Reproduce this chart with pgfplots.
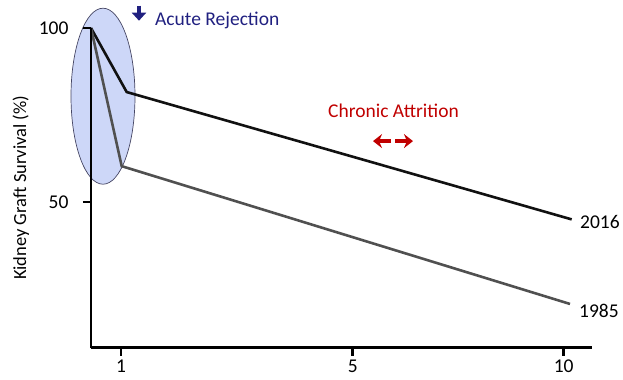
\documentclass[border=0pt]{standalone}
\usepackage{fontspec}
\setmainfont{Carlito}
\usepackage{pgfplots}
\pgfplotsset{compat=1.18}
\usetikzlibrary{arrows.meta}

\definecolor{navy}{RGB}{32,32,128}
\definecolor{darkred}{RGB}{192,0,0}
\definecolor{lineblack}{RGB}{17,17,17}
\definecolor{linegray}{RGB}{80,80,80}
\definecolor{ellfill}{RGB}{205,215,248}
\definecolor{elldraw}{RGB}{70,70,100}

\begin{document}
\begin{tikzpicture}[font=\fontsize{19.5bp}{23bp}\selectfont]
% page = 623 x 380 bp, axis box origin at (91,347.7) px from top left
\useasboundingbox (-91bp,-32.3bp) rectangle (532bp,347.7bp);
\begin{axis}[
    scale only axis,
    width=501bp, height=319.7bp,
    xmin=0, xmax=501,
    ymin=8.13, ymax=100,
    axis x line=bottom, axis y line=left,
    axis line style={-, line width=2.5bp, black},
    axis on top,
    clip=false,
    xtick={30,261.7,472.7},
    xticklabels={1,5,10},
    ytick={50,100},
    tick align=outside,
    major tick length=8bp,
    tick style={line width=2.5bp, black},
    /pgf/number format/assume math mode=true,
    ticklabel style={font=\fontsize{19.5bp}{23bp}\selectfont},
    yticklabel style={xshift=-11bp},
    xticklabel style={yshift=-3bp, inner ysep=1bp},
    ylabel={Kidney Graft Survival (\%)},
    ylabel style={at={(axis description cs:-0.14,0.5)}, anchor=center,
        font=\fontsize{18.5bp}{22bp}\selectfont},
]
% acute rejection window
\draw[fill=ellfill, draw=elldraw, line width=0.7bp] (axis cs:12,80.4) ellipse [x radius=32bp, y radius=88bp];

% 2016
\addplot[lineblack, line width=2.6bp] coordinates {
    (0,100) (35.7,81.6) (480.7,45.0)
};
% 1985
\addplot[linegray, line width=2.6bp] coordinates {
    (0,100) (30.7,60.3) (479,20.7)
};

\node[anchor=base west, inner sep=0pt] at (axis cs:489,42.5) {2016};
\node[anchor=base west, inner sep=0pt] at (axis cs:488,16.95) {1985};

\draw[navy, line width=4.5bp, -{Triangle[width=14bp,length=8bp]}] (axis cs:48,106.4) -- (axis cs:48,102.1);
\node[navy, anchor=base west, inner sep=0pt] at (axis cs:64,100.6) {Acute Rejection};

\node[darkred, anchor=base west, inner sep=0pt] at (axis cs:237,74.4) {Chronic Attrition};
\draw[darkred, line width=3.5bp, -{Stealth[width=14bp,length=9bp]}] (axis cs:300,67.5) -- (axis cs:282,67.5);
\draw[darkred, line width=3.5bp, -{Stealth[width=14bp,length=9bp]}] (axis cs:304,67.5) -- (axis cs:322,67.5);
\end{axis}
\end{tikzpicture}
\end{document}
